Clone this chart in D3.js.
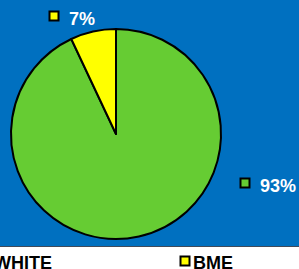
<!DOCTYPE html>
<html>
<head>
<meta charset="utf-8">
<script src="https://cdn.jsdelivr.net/npm/d3@7"></script>
<style>
  body { margin: 0; padding: 0; background: #fff; }
  svg { display: block; font-family: "Liberation Sans", Arial, sans-serif; font-weight: bold; }
</style>
</head>
<body>
<div id="chart"></div>
<script>
// data
var categories = ["WHITE", "BME"];
var values = [93, 7];
var labels = ["93%", "7%"];
var colors = ["#66CC33", "#FFFF00"];

var width = 299;
var height = 269;
var cx = 116, cy = 134, radius = 105;

var svg = d3
  .select("#chart")
  .append("svg")
  .attr("width", width)
  .attr("height", height);

// plot area background
svg
  .append("rect")
  .attr("x", 0)
  .attr("y", 0)
  .attr("width", width)
  .attr("height", 246)
  .attr("fill", "#0070C0");
svg
  .append("line")
  .attr("x1", 0)
  .attr("x2", width)
  .attr("y1", 246.5)
  .attr("y2", 246.5)
  .attr("stroke", "#404a5a")
  .attr("stroke-width", 1);

var data = categories.map((c, i) => ({ cat: c, value: values[i], label: labels[i], color: colors[i] }));

var pie = d3.pie().sort(null).value((d) => d.value);
var arc = d3.arc().innerRadius(0).outerRadius(radius);

var wrapper = svg.append("g").attr("transform", `translate(${cx},${cy})`);

wrapper
  .selectAll("path")
  .data(pie(data))
  .join("path")
  .attr("d", arc)
  .attr("fill", (d) => d.data.color)
  .attr("stroke", "#000")
  .attr("stroke-width", 2)
  .attr("stroke-linejoin", "round");

// data labels (square marker + percentage)
var labelPos = { WHITE: [240, 178], BME: [49, 11] };
var labelG = svg
  .append("g")
  .selectAll("g")
  .data(data)
  .join("g")
  .attr("transform", (d) => `translate(${labelPos[d.cat][0]},${labelPos[d.cat][1]})`);
labelG
  .append("rect")
  .attr("x", 0.5)
  .attr("y", 0.5)
  .attr("width", 9)
  .attr("height", 9)
  .attr("fill", (d) => d.color)
  .attr("stroke", "#000")
  .attr("stroke-width", 2);
labelG
  .append("text")
  .attr("x", 20)
  .attr("y", 13.5)
  .attr("fill", "#fff")
  .attr("font-size", "18px")
  .text((d) => d.label);

// legend (first entry runs off the left edge, as in the original)
var legendX = { WHITE: -19, BME: 180 };
var legend = svg
  .append("g")
  .selectAll("g")
  .data(data)
  .join("g")
  .attr("transform", (d) => `translate(${legendX[d.cat]},256)`);
legend
  .append("rect")
  .attr("x", 0.5)
  .attr("y", 0.5)
  .attr("width", 9)
  .attr("height", 9)
  .attr("fill", (d) => d.color)
  .attr("stroke", "#000")
  .attr("stroke-width", 2);
legend
  .append("text")
  .attr("x", 13)
  .attr("y", 12.8)
  .attr("fill", "#000")
  .attr("font-size", "18px")
  .text((d) => d.cat);
</script>
</body>
</html>
